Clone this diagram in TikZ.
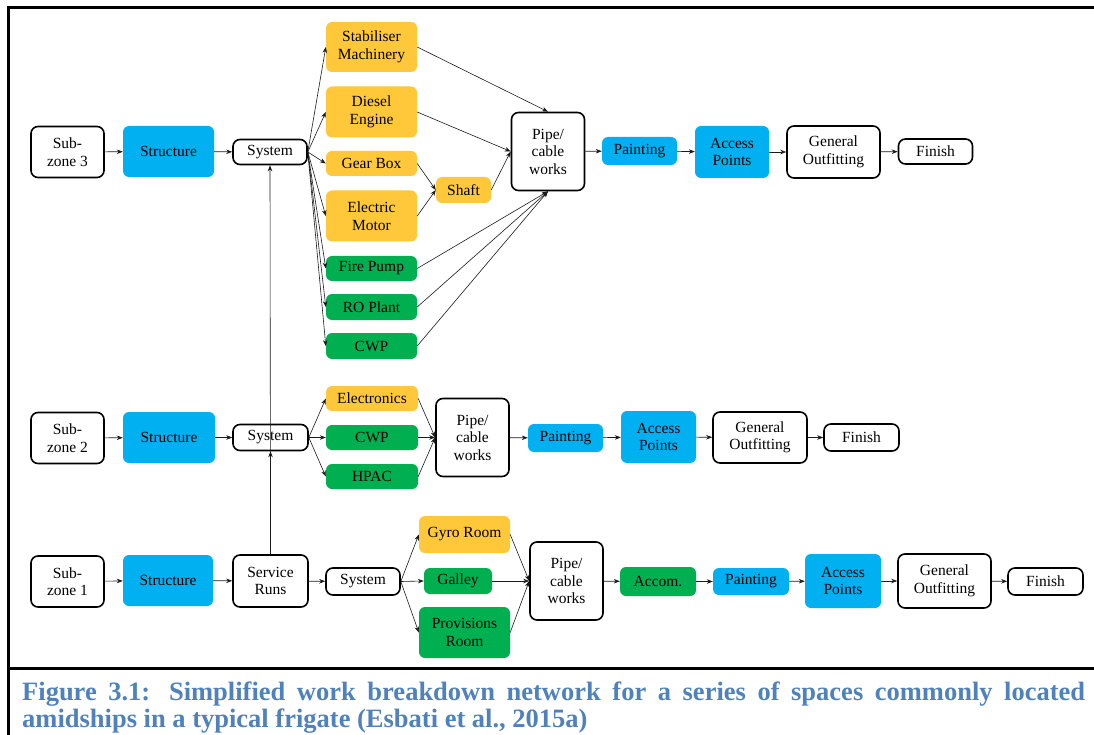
\documentclass[tikz,border=0pt]{standalone}
\usepackage{fontspec}
\setmainfont{Liberation Serif}
\usetikzlibrary{arrows.meta}
\definecolor{cblue}{HTML}{00B0F0}
\definecolor{corange}{HTML}{FFC83A}
\definecolor{cgreen}{HTML}{00B050}
\definecolor{capblue}{HTML}{4F81BD}
\definecolor{lnk}{HTML}{1A1A1A}
\tikzset{
  box/.style={rounded corners=6pt, align=center, inner sep=1pt,
    font=\fontsize{15.5}{17.5}\selectfont},
  wbox/.style={box, draw=black, line width=1.6pt, fill=white, rounded corners=7pt},
  bbox/.style={box, fill=cblue},
  obox/.style={box, fill=corange},
  gbox/.style={box, fill=cgreen},
  sz/.style 2 args={minimum width=#1pt, minimum height=#2pt},
  arr/.style={-{Stealth[length=6pt,width=4.5pt]}, line width=0.6pt, draw=lnk},
  frame/.style={line width=2.5pt, draw=black},
  caption/.style={anchor=base west, inner sep=0pt, text=capblue,
    font=\fontsize{26.5}{27}\selectfont\bfseries},
}
\begin{document}
\begin{tikzpicture}[x=1pt,y=-1pt]
\useasboundingbox (0,0) rectangle (1094,735);

% outer frame (open on the right)
\draw[frame] (1094,7.5) -- (8.5,7.5) -- (8.5,735);
\draw[frame] (8.5,668.5) -- (1094,668.5);

% ---------- Sub-zone 3 ----------
\node[wbox,sz={73}{51}] (z3)   at (67.5,152)  {Sub-\\zone 3};
\node[bbox,sz={91}{51}] (st3)  at (168.5,151.5) {Structure};
\node[wbox,sz={74}{25}] (sy3)  at (270,152)   {System};
\node[obox,sz={91}{50}] (stab) at (371.5,47)  {Stabiliser\\Machinery};
\node[obox,sz={91}{51}] (dies) at (371.5,112) {Diesel\\Engine};
\node[obox,sz={91}{25}] (gear) at (371.5,163.5) {Gear Box};
\node[obox,sz={91}{51}] (elec) at (371.5,216) {Electric\\Motor};
\node[gbox,sz={91}{25}] (fire) at (371.5,268.5) {Fire Pump};
\node[gbox,sz={91}{26}] (ro)   at (371.5,307) {RO Plant};
\node[gbox,sz={91}{26}] (cwpA) at (371.5,346) {CWP};
\node[obox,sz={55}{26}] (shaft) at (463.5,190) {Shaft};
\node[wbox,sz={73}{78}] (pipe3) at (548,151.5) {Pipe/\\cable\\works};
\node[bbox,sz={75}{28}] (pnt3) at (639.5,151) {Painting};
\node[bbox,sz={74}{52}] (acc3) at (732,152)   {Access\\Points};
\node[wbox,sz={93}{52}] (gen3) at (833.5,152) {General\\Outfitting};
\node[wbox,sz={74}{25}] (fin3) at (935.5,151.5) {Finish};

% ---------- Sub-zone 2 ----------
\node[wbox,sz={73}{51}] (z2)   at (67.5,438)  {Sub-\\zone 2};
\node[bbox,sz={92}{51}] (st2)  at (169,437.5) {Structure};
\node[wbox,sz={75}{26}] (sy2)  at (270.5,437.5) {System};
\node[obox,sz={92}{25}] (elx)  at (372,398.5) {Electronics};
\node[gbox,sz={92}{25}] (cwpB) at (372,437.5) {CWP};
\node[gbox,sz={92}{25}] (hpac) at (372,476.5) {HPAC};
\node[wbox,sz={73}{78}] (pipe2) at (472.5,437.5) {Pipe/\\cable\\works};
\node[bbox,sz={75}{28}] (pnt2) at (565.5,438) {Painting};
\node[bbox,sz={75}{52}] (acc2) at (658.5,437) {Access\\Points};
\node[wbox,sz={94}{51}] (gen2) at (760,437.5) {General\\Outfitting};
\node[wbox,sz={75}{27}] (fin2) at (861.5,437.5) {Finish};

% ---------- Sub-zone 1 ----------
\node[wbox,sz={73}{51}] (z1)   at (67.5,581.5) {Sub-\\zone 1};
\node[bbox,sz={90}{51}] (st1)  at (168,580.5) {Structure};
\node[wbox,sz={75}{52}] (srv)  at (270.5,581) {Service\\Runs};
\node[wbox,sz={74}{27}] (sy1)  at (363,581.5) {System};
\node[obox,sz={91}{37}] (gyro) at (464.5,534.5) {Gyro Room};
\node[gbox,sz={68}{26}] (galley) at (458,581) {Galley};
\node[gbox,sz={91}{51}] (prov) at (464.5,632.5) {Provisions\\Room};
\node[wbox,sz={73}{78}] (pipe1) at (566.5,581) {Pipe/\\cable\\works};
\node[gbox,sz={76}{29}] (accom) at (658,581.5) {Accom.};
\node[bbox,sz={76}{27}] (pnt1) at (751,581.5) {Painting};
\node[bbox,sz={76}{54}] (acc1) at (843,581)   {Access\\Points};
\node[wbox,sz={93}{54}] (gen1) at (944.5,581) {General\\Outfitting};
\node[wbox,sz={75}{27}] (fin1) at (1045.5,581.5) {Finish};

% ---------- connectors, sub-zone 3 ----------
\draw[arr] (z3) -- (st3);
\draw[arr] (st3) -- (sy3);
\foreach \n in {stab,dies,gear,elec,fire,ro,cwpA}
  \draw[arr] (sy3.east) -- (\n.west);
\draw[arr] (stab.east) -- (pipe3.north);
\draw[arr] (dies.east) -- (pipe3.west);
\draw[arr] (gear.east) -- (shaft.west);
\draw[arr] (elec.east) -- (shaft.west);
\draw[arr] (shaft.east) -- (pipe3.west);
\foreach \n in {fire,ro,cwpA}
  \draw[arr] (\n.east) -- (pipe3.south);
\draw[arr] (pipe3) -- (pnt3);
\draw[arr] (pnt3) -- (acc3);
\draw[arr] (acc3) -- (gen3);
\draw[arr] (gen3) -- (fin3);

% ---------- connectors, sub-zone 2 ----------
\draw[arr] (z2) -- (st2);
\draw[arr] (st2) -- (sy2);
\foreach \n in {elx,cwpB,hpac}{
  \draw[arr] (sy2.east) -- (\n.west);
  \draw[arr] (\n.east) -- (pipe2.west);
}
\draw[arr] (pipe2) -- (pnt2);
\draw[arr] (pnt2) -- (acc2);
\draw[arr] (acc2) -- (gen2);
\draw[arr] (gen2) -- (fin2);

% ---------- connectors, sub-zone 1 ----------
\draw[arr] (z1) -- (st1);
\draw[arr] (st1) -- (srv);
\draw[arr] (srv) -- (sy1);
\foreach \n in {gyro,galley,prov}{
  \draw[arr] (sy1.east) -- (\n.west);
  \draw[arr] (\n.east) -- (pipe1.west);
}
\draw[arr] (pipe1) -- (accom);
\draw[arr] (accom) -- (pnt1);
\draw[arr] (pnt1) -- (acc1);
\draw[arr] (acc1) -- (gen1);
\draw[arr] (gen1) -- (fin1);

% service runs feed the systems above
\draw[arr] (srv.north) -- (sy2.south);
\draw[arr] (srv.north) -- (sy3.south);

% ---------- caption ----------
\node[caption] (cap1) at (22,700)
  {\makebox[1063pt][s]{Figure 3.1: Simplified work breakdown network for a series of spaces commonly located}};
\node[caption] (cap2) at (22,727)
  {amidships in a typical frigate (Esbati et al., 2015a)};
\end{tikzpicture}
\end{document}
